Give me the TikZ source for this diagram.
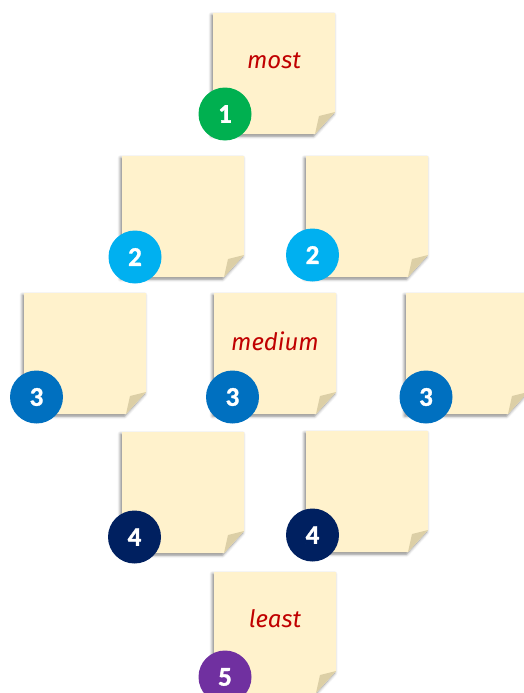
\documentclass[tikz,border=0pt]{standalone}
\usepackage{fontspec}
\usetikzlibrary{shadows.blur}
\newfontfamily\numfont{Carlito}[FakeBold=1.2]
\newfontfamily\wordfont{Fira Sans}

\definecolor{notefill}{HTML}{FFF2CC}
\definecolor{curlfill}{HTML}{DCCFA6}
\definecolor{wordred}{HTML}{C00000}
\definecolor{rankA}{HTML}{00B050}
\definecolor{rankB}{HTML}{00B0F0}
\definecolor{rankC}{HTML}{0070C0}
\definecolor{rankD}{HTML}{002060}
\definecolor{rankE}{HTML}{7030A0}

\tikzset{
  notebody/.style={fill=notefill,
    blur shadow={shadow xshift=-1.5pt, shadow yshift=-2pt,
                 shadow blur radius=3pt, shadow opacity=50}},
  notecurl/.style={fill=curlfill},
  noteframe/.style={inner sep=0pt, minimum width=122pt, minimum height=121pt},
  numdot/.style={circle, inner sep=0pt, minimum size=53pt, text=white,
    font=\numfont\bfseries\fontsize{27}{27}\selectfont},
  word/.style={anchor=base, text=wordred,
    font=\wordfont\itshape\fontsize{24}{24}\selectfont},
}

% #1 id, #2 left, #3 top, #4 dot x, #5 dot y, #6 number, #7 dot colour
\newcommand{\stickynote}[7]{%
  \begin{scope}[shift={(#2,#3)}]
    \path[notebody] (0,0) -- (122,0) -- (122,99) -- (102,121) -- (0,121) -- cycle;
    \path[notecurl] (122,99) -- (106,103) -- (102,121) -- cycle;
    \node[noteframe] (note#1) at (61,60.5) {};
  \end{scope}
  \node[numdot, fill=#7] (dot#1) at (#4,#5) {#6};
}

\begin{document}
\begin{tikzpicture}[x=1pt, y=-1pt]
  \useasboundingbox (0,0) rectangle (524,693);

  \stickynote{a}{213}{13}{225}{114}{1}{rankA}
  \stickynote{bl}{122}{156}{135}{257}{2}{rankB}
  \stickynote{br}{306}{156}{312.5}{255}{2}{rankB}
  \stickynote{cl}{24}{293}{36.5}{397}{3}{rankC}
  \stickynote{cc}{214}{293}{232.5}{397}{3}{rankC}
  \stickynote{cr}{406}{293}{426}{397}{3}{rankC}
  \stickynote{dl}{122}{432}{134.5}{537}{4}{rankD}
  \stickynote{dr}{306}{431}{312.5}{535}{4}{rankD}
  \stickynote{e}{214}{572}{225}{677}{5}{rankE}

  \node[word] (wmost) at ([yshift=4.5pt]notea.center) {most};
  \node[word] (wmedium) at ([yshift=3.5pt]notecc.center) {medium};
  \node[word] (wleast) at ([yshift=5.5pt]notee.center) {least};
\end{tikzpicture}
\end{document}
